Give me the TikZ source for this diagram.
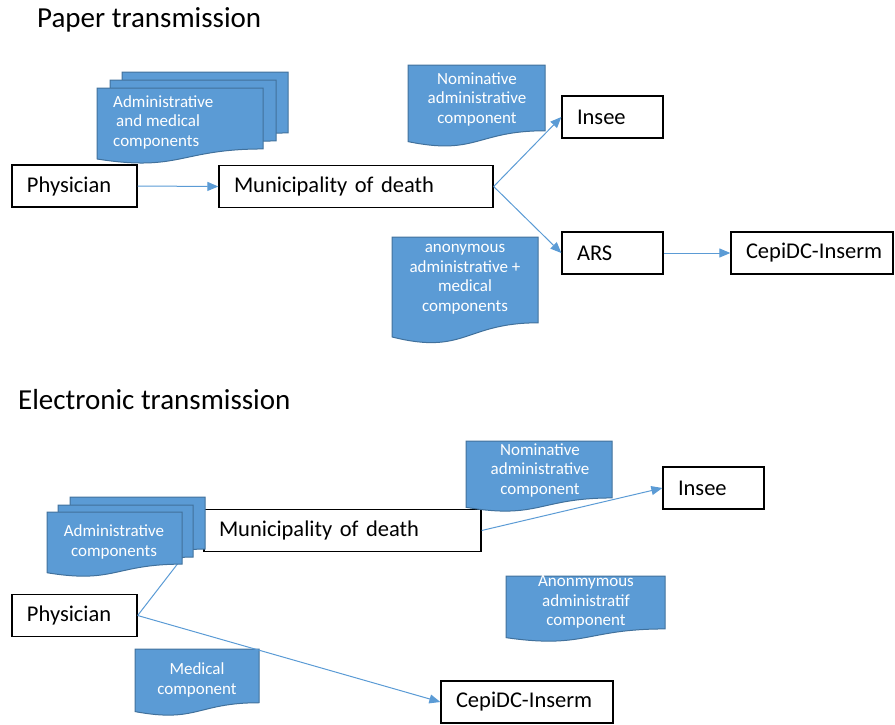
\documentclass[tikz,border=0pt]{standalone}
\usepackage{fontspec}
\setmainfont{Carlito}
\usetikzlibrary{arrows.meta}
\definecolor{docfill}{HTML}{5B9BD5}
\definecolor{docdraw}{HTML}{41719C}
\definecolor{arrowblue}{HTML}{5B9BD5}
\newcommand\docshape[4]{%
  \path[docstyle] (#1,#2) -- (#1+#3,#2) -- (#1+#3,#2+0.802*#4)
    .. controls (#1+0.5*#3,#2+0.802*#4) and (#1+0.5*#3,#2+1.107*#4) ..
    (#1,#2+0.934*#4) -- cycle;}
\tikzset{
  docstyle/.style={fill=docfill,draw=docdraw,line width=1pt},
  doctext/.style={text=white,align=center,font=\fontsize{17}{19.5}\selectfont,inner sep=0pt},
  box/.style={draw=black,line width=1.3pt,fill=white,minimum height=42pt,inner xsep=15pt,
    align=left,font=\fontsize{22.5}{26}\selectfont,anchor=center},
  title/.style={font=\fontsize{29}{33}\selectfont,anchor=west,inner sep=0pt},
  flow/.style={draw=arrowblue,line width=1pt,-{Triangle[length=11pt,width=9pt]}},
  plain/.style={draw=arrowblue,line width=1pt}
}
\begin{document}
\begin{tikzpicture}[x=1pt,y=-1pt]
\useasboundingbox (0,0) rectangle (895,724);
% ---------- Paper ----------
\node[title] (t1) at (37,20) {Paper transmission};
\docshape{122}{72}{166}{76}
\docshape{110}{80}{166}{76}
\docshape{97}{88}{166}{76}
\node[doctext,align=left,anchor=west] (d1) at (113,122) {Administrative\\\hspace{3pt}and medical\\components};
\docshape{408}{65}{137}{82}
\node[doctext] (d2) at (477,99) {Nominative\\administrative\\component};
\docshape{392}{237}{146}{107}
\node[doctext] (d3) at (465,279) {anonymous\\administrative +\\medical\\components};

\node[box,text width=95pt] (phys1) at (74.5,186) {Physician};
\node[box,text width=244pt] (muni1) at (356,186.5) {Municipality of death};
\node[box,text width=71pt] (insee1) at (612.5,117) {Insee};
\node[box,text width=71pt] (ars1) at (612.5,253) {ARS};
\node[box,text width=132pt] (cepi1) at (812,253) {\mbox{CepiDC-Inserm}};

\draw[flow] (phys1.east) -- (muni1.west);
\draw[flow] (muni1.east) -- (insee1.west);
\draw[flow] (muni1.east) -- (ars1.west);
\draw[flow] (ars1.east) -- (cepi1.west);

% ---------- Electronic ----------
\node[title] (t2) at (18,400) {Electronic transmission};
\node[box,text width=95pt] (phys2) at (74.5,615.5) {Physician};
\node[box,text width=247pt] (muni2) at (342.5,530.5) {Municipality of death};
\draw[flow] (phys2.east) -- (muni2.west);
\docshape{70}{497}{135}{65}
\docshape{58}{505}{135}{65}
\docshape{47}{512}{135}{65}
\node[doctext] (d4) at (114,542) {Administrative\\components};
\docshape{466}{441}{146}{71}
\node[doctext] (d5) at (540,470) {Nominative\\administrative\\component};
\docshape{506}{576}{159}{66}
\node[doctext] (d6) at (586,602) {Anonmymous\\administratif\\component};
\docshape{135}{649}{124}{67}
\node[doctext] (d7) at (197,680) {Medical\\component};

\node[box,text width=71pt] (insee2) at (713.5,488) {Insee};
\node[box,text width=142pt] (cepi2) at (527,702) {\mbox{CepiDC-Inserm}};

\draw[flow] (muni2.east) -- (insee2.west);
\draw[flow] (phys2.east) -- (cepi2.west);
\end{tikzpicture}
\end{document}
